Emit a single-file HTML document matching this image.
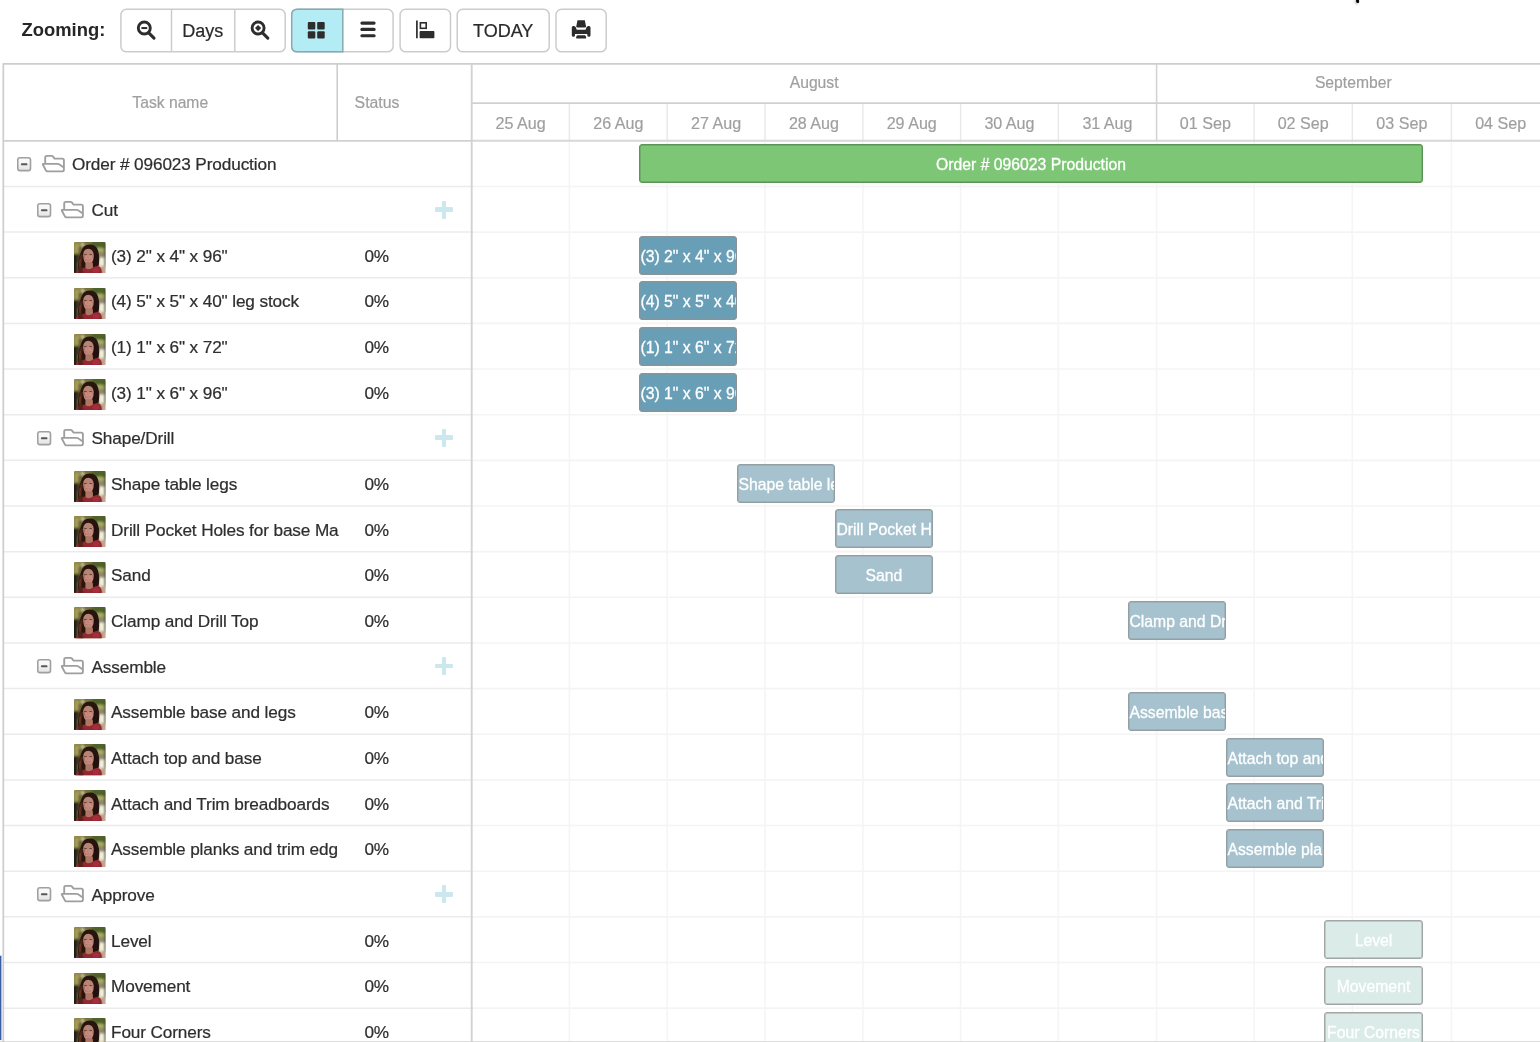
<!DOCTYPE html>
<html lang="en">
<head>
<meta charset="utf-8">
<title>Gantt</title>
<style>
html,body{margin:0;padding:0;}
html{background:#fff;}
body{width:1540px;height:1042px;overflow:hidden;position:relative;background:transparent;will-change:transform;font-family:"Liberation Sans",Arial,Helvetica,sans-serif;color:#2b2b2b;}
.defs{position:absolute;width:0;height:0;overflow:hidden;}

/* toolbar */
.tb{position:absolute;left:0;top:0;width:1540px;height:64px;}
.tb .lbl{position:absolute;left:21.5px;top:18.6px;font-size:18.4px;font-weight:bold;line-height:22px;color:#262626;}
.tbsvg{position:absolute;left:0;top:0;}
.tb .t{position:absolute;top:19.9px;text-align:center;font-size:18px;line-height:22px;color:#2a2a2a;-webkit-text-stroke:0.2px #2a2a2a;}

/* gantt */
.lines{position:absolute;left:0;top:0;}
.hd{position:absolute;text-align:center;color:#9f9f9f;white-space:nowrap;-webkit-text-stroke:0.2px #9f9f9f;}
.grow{position:absolute;left:0;width:471px;height:45.65px;}
.grow .nm{position:absolute;top:13.7px;font-size:17.2px;letter-spacing:-0.12px;line-height:21px;white-space:nowrap;color:#2e2e2e;-webkit-text-stroke:0.22px #2e2e2e;}
.grow .st{position:absolute;left:364.4px;top:13.7px;font-size:17.2px;letter-spacing:-0.12px;line-height:21px;color:#2e2e2e;-webkit-text-stroke:0.22px #2e2e2e;}
.tog{position:absolute;top:16.15px;}
.fold{position:absolute;top:12.2px;}
.plus{position:absolute;left:435.1px;top:14.15px;width:18px;height:18px;}
.plus:before{content:"";position:absolute;left:6.6px;top:0;width:4.8px;height:18px;background:#cbe8ee;border-radius:1px;}
.plus:after{content:"";position:absolute;left:0;top:6.6px;width:18px;height:4.8px;background:#cbe8ee;border-radius:1px;}
.av{position:absolute;left:74.2px;top:10.2px;}

.bar{position:absolute;height:39px;box-sizing:border-box;border-radius:3px;color:#fff;font-size:15.75px;line-height:39.7px;white-space:nowrap;overflow:hidden;-webkit-text-stroke:0.3px #fff;}
.bar.ac{text-align:center;}
.bar.al{text-align:left;padding-left:0.4px;}
.bar.g{background:#7dc675;border:1px solid #5c9457;box-shadow:inset 0 0 0 0.45px #5c9457;}
.bar.b1{background:#699fb6;border:1px solid #8b9397;box-shadow:inset 0 0 0 0.4px #8b9397;}
.bar.b2{background:#a5c2ce;border:1px solid #949fa4;box-shadow:inset 0 0 0 0.45px #949fa4;}
.bar.b3{background:#dbece8;border:1px solid #a2a6a5;box-shadow:inset 0 0 0 0.5px #a2a6a5;}

.bluebar{position:absolute;left:0;top:955.5px;width:1.5px;height:84.5px;background:#3561a8;}
.cursor{position:absolute;left:1356.2px;top:-2.2px;width:3px;height:4.6px;background:#050505;border-radius:1.5px;transform:rotate(-8deg);box-shadow:-1px 1.2px 2.5px rgba(0,0,0,0.28);}
</style>
</head>
<body>
<svg class="defs" width="0" height="0" aria-hidden="true">
<defs>
<filter id="bl" x="-10%" y="-10%" width="120%" height="120%"><feGaussianBlur stdDeviation="0.9"/></filter>
<filter id="bl2" x="-10%" y="-10%" width="120%" height="120%"><feGaussianBlur stdDeviation="0.35"/></filter>
<clipPath id="avc"><rect x="0" y="0" width="31" height="31" rx="1"/></clipPath>
<linearGradient id="tg" x1="0" y1="0" x2="0" y2="1"><stop offset="0.3" stop-color="#f8f8f8"/><stop offset="1" stop-color="#e2e2e2"/></linearGradient>
<symbol id="tog" viewBox="0 0 15 15">
<rect x="0.75" y="0.8" width="12.75" height="12.8" rx="2.1" fill="url(#tg)" stroke="#a0a0a0" stroke-width="1.6"/>
<rect x="3.95" y="6.35" width="6.5" height="1.95" rx="0.9" fill="#585858"/>
</symbol>
<symbol id="folder" viewBox="0 0 26 22">
<path d="M5.2 10.8 V4.4 Q5.2 2.8 6.8 2.8 H11.7 Q12.4 2.8 12.8 3.3 L14.6 5.6 H22.3 Q23.9 5.6 23.9 7.2 V16.8 Q23.9 18.4 22.3 18.4 H7.5 Q6.4 18.4 5.9 17.4 L2.8 11.5 Q2.5 10.8 3.3 10.8 H17.6 Q18.5 10.8 19.1 11.2 L23.4 14.2" fill="none" stroke="#9e9e9e" stroke-width="1.85" stroke-linejoin="round" stroke-linecap="round"/>
</symbol>
<symbol id="avatar" viewBox="0 0 31 31">
<g clip-path="url(#avc)">
<g filter="url(#bl)">
<rect x="-3" y="-3" width="37" height="37" fill="#857c40"/>
<rect x="-3" y="-3" width="11" height="16" fill="#8f8748"/>
<rect x="1.5" y="2" width="3" height="9" fill="#a9a262"/>
<rect x="4.5" y="5" width="3" height="7" fill="#5e5a2c"/>
<rect x="16" y="-3" width="18" height="9" fill="#50622a"/>
<rect x="10" y="-3" width="8" height="5" fill="#6e7238"/>
<ellipse cx="25" cy="8" rx="4.5" ry="2.6" fill="#a6ad68"/>
<rect x="7.6" y="1.4" width="1.8" height="2.6" fill="#f2f0d8"/>
<rect x="-3" y="12" width="6.5" height="22" fill="#1c1d12"/>
<rect x="3" y="12" width="4" height="8" fill="#4a3a20"/>
<rect x="23.5" y="10" width="10" height="7" fill="#8e8870"/>
<rect x="24.3" y="15.5" width="5.6" height="8.5" fill="#f1f0de"/>
<rect x="24" y="23" width="3" height="3" fill="#d9d6bf"/>
<rect x="27.2" y="24.5" width="6" height="10" fill="#c6a695"/>
<rect x="30" y="2" width="4" height="21" fill="#4e4c2c"/>
</g>
<g>
<path d="M15.2 2.6 Q21.5 2.4 23.6 8.5 Q25.2 14 24.6 19.5 Q24.4 22.6 23.6 24 L17.5 25.5 L10.5 26 L9.6 31 L4 31 Q3.2 24 4.6 18.5 Q5.4 14 6.6 10.6 Q8.6 2.8 15.2 2.6 Z" fill="#28150f"/>
<path d="M6.6 12.5 Q4.2 19 4.4 28 L7.6 27.6 Q7.2 19 9 13 Z" fill="#4a2418"/>
<path d="M5.4 17 Q4.6 22 5 27 L6.6 26.8 Q6.4 21 7 17 Z" fill="#66341f"/>
<path d="M20 9 Q24.6 14 24 23.6 L19 25 Z" fill="#21100e"/>
<path d="M9 13.2 Q8.9 7.2 13.9 6.7 Q19 6.9 19.4 13 Q19.7 17.8 17.4 20.6 Q15.4 22.5 13.7 22.4 Q11.5 22 10 18.8 Q9 16.4 9 13.2 Z" fill="#b98272"/>
<ellipse cx="14.1" cy="16.8" rx="4.2" ry="4" fill="#c88c80"/>
<path d="M9.5 12 Q9.6 16.5 11 19.5 L11.6 19 Q10.6 15.5 10.6 11.5 Z" fill="#a87464"/>
<ellipse cx="14" cy="9.4" rx="3.2" ry="1.7" fill="#b78575"/>
<path d="M11.4 20 L18.4 20.5 L18.8 27.5 L11 27.5 Z" fill="#ad7763"/>
<path d="M1.6 31 Q2.2 27.4 8 25.9 L10.8 25.3 Q14.6 29.2 19 24.9 L23.2 23.6 Q26.6 24.6 27.2 29 L27.4 34 L1.6 34 Z" fill="#952733"/>
<ellipse cx="21.6" cy="28" rx="3.4" ry="2.4" fill="#a32e3c"/>
<ellipse cx="7" cy="29.8" rx="3.4" ry="1.4" fill="#86222d"/>
<path d="M4.2 24 Q4 27.5 4.6 31 L8.6 31 Q8.2 27.5 9 25.6 Z" fill="#4a2418" opacity="0.85"/>
</g>
<g>
<rect x="10" y="11.9" width="2.5" height="1" rx="0.4" fill="#46291f" opacity="0.75"/>
<rect x="15.1" y="11.9" width="2.5" height="1" rx="0.4" fill="#46291f" opacity="0.75"/>
<path d="M11.7 17.8 Q14 19.9 16.5 17.8 Q14 18.7 11.7 17.8 Z" fill="#ecd6cf" stroke="#a4585a" stroke-width="0.5" opacity="0.8"/>
<path d="M13.6 13 L13.3 15.9 L14.6 16" fill="none" stroke="#a87464" stroke-width="0.5" opacity="0.7"/>
</g>
</g>
</symbol>
</defs>
</svg>
<div class="tb">
<div class="lbl">Zooming:</div>
<svg class="tbsvg" width="640" height="64" viewBox="0 0 640 64" fill="none">
<g stroke="#cbcbcb" stroke-width="1.45">
<rect x="120.9" y="9.3" width="164.3" height="42.5" rx="5.6" fill="#fff"/>
<path d="M171.5 9.3 V51.8 M234.8 9.3 V51.8"/>
<rect x="291.7" y="9.3" width="101.4" height="42.5" rx="5.6" fill="#fff"/>
<rect x="400.1" y="9.3" width="50.4" height="42.5" rx="5.6" fill="#fff"/>
<rect x="457.2" y="9.3" width="92" height="42.5" rx="5.6" fill="#fff"/>
<rect x="556" y="9.3" width="50.2" height="42.5" rx="5.6" fill="#fff"/>
</g>
<path d="M342.8 9.3 H297.3 Q291.7 9.3 291.7 14.9 V46.2 Q291.7 51.8 297.3 51.8 H342.8 Z" fill="#b4ecf5" stroke="#86aab1" stroke-width="1.5"/>
<g stroke="#2d2d2d">
<circle cx="144.3" cy="28.05" r="6.0" stroke-width="2.9"/>
<path d="M149 33.05 L154 38.05" stroke-width="3.1" stroke-linecap="round"/>
<path d="M141.4 28.05 H147.2" stroke-width="2"/>
<circle cx="258.1" cy="28.05" r="6.0" stroke-width="2.9"/>
<path d="M262.8 33.05 L267.8 38.05" stroke-width="3.1" stroke-linecap="round"/>
</g>
<path d="M258.1 24.95 L261.2 28.05 L258.1 31.15 L255 28.05 Z" fill="#2d2d2d"/>
<g fill="#2d2d2d">
<rect x="307.8" y="22" width="7.5" height="7.4" rx="1"/><rect x="317.2" y="22" width="7.5" height="7.4" rx="1"/>
<rect x="307.8" y="31.2" width="7.5" height="7.4" rx="1"/><rect x="317.2" y="31.2" width="7.5" height="7.4" rx="1"/>
</g>
<g stroke="#2d2d2d" stroke-width="3.1" stroke-linecap="round"><path d="M361.9 23.1 H374.1"/><path d="M361.9 29.4 H374.1"/><path d="M361.9 35.7 H374.1"/></g>
<path d="M416.9 20.4 V38.3" stroke="#2d2d2d" stroke-width="1.7"/>
<rect x="420.4" y="22.8" width="5.8" height="5.5" stroke="#2d2d2d" stroke-width="1.6"/>
<rect x="419.6" y="31.1" width="14.8" height="7.2" rx="0.8" fill="#2d2d2d"/>
<g fill="#2b2b2b" transform="translate(0.3 0)"><path d="M577.2 20.2 H584.5 L585.7 26.2 Q585.8 27.4 584.4 27.4 H577.3 Q575.9 27.4 576 26.2 Z"/><path d="M571.5 27.6 Q571.5 26.1 573 26.1 H573.7 Q575 26.1 575.6 27.6 L576.4 29.7 H585.3 L586.1 27.6 Q586.7 26.1 588 26.1 H588.7 Q590.2 26.1 590.2 27.6 V35.3 Q590.2 36.8 588.6 36.8 Q587 36.8 587 35.3 V33.9 H574.7 V35.3 Q574.7 36.8 573.1 36.8 Q571.5 36.8 571.5 35.3 Z"/><path d="M577.2 35.3 H584.5 Q585.2 35.3 585.4 36 L585.9 37.6 Q586.1 38.5 585.2 38.5 H576.5 Q575.6 38.5 575.8 37.6 L576.3 36 Q576.5 35.3 577.2 35.3 Z"/></g>
</svg>
<div class="t" style="left:171.1px;width:63.3px">Days</div>
<div class="t" style="left:457.4px;width:91.6px">TODAY</div>
</div>
<svg class="lines" width="1540" height="1042" viewBox="0 0 1540 1042" fill="none">
<path d="M3.30 186.45 L471.70 186.45" stroke="#ebebeb" stroke-width="1.50"/>
<path d="M471.70 186.45 L1541.00 186.45" stroke="#f5f4f5" stroke-width="1.60"/>
<path d="M3.30 232.10 L471.70 232.10" stroke="#ebebeb" stroke-width="1.50"/>
<path d="M471.70 232.10 L1541.00 232.10" stroke="#f5f4f5" stroke-width="1.60"/>
<path d="M3.30 277.75 L471.70 277.75" stroke="#ebebeb" stroke-width="1.50"/>
<path d="M471.70 277.75 L1541.00 277.75" stroke="#f5f4f5" stroke-width="1.60"/>
<path d="M3.30 323.40 L471.70 323.40" stroke="#ebebeb" stroke-width="1.50"/>
<path d="M471.70 323.40 L1541.00 323.40" stroke="#f5f4f5" stroke-width="1.60"/>
<path d="M3.30 369.05 L471.70 369.05" stroke="#ebebeb" stroke-width="1.50"/>
<path d="M471.70 369.05 L1541.00 369.05" stroke="#f5f4f5" stroke-width="1.60"/>
<path d="M3.30 414.70 L471.70 414.70" stroke="#ebebeb" stroke-width="1.50"/>
<path d="M471.70 414.70 L1541.00 414.70" stroke="#f5f4f5" stroke-width="1.60"/>
<path d="M3.30 460.35 L471.70 460.35" stroke="#ebebeb" stroke-width="1.50"/>
<path d="M471.70 460.35 L1541.00 460.35" stroke="#f5f4f5" stroke-width="1.60"/>
<path d="M3.30 506.00 L471.70 506.00" stroke="#ebebeb" stroke-width="1.50"/>
<path d="M471.70 506.00 L1541.00 506.00" stroke="#f5f4f5" stroke-width="1.60"/>
<path d="M3.30 551.65 L471.70 551.65" stroke="#ebebeb" stroke-width="1.50"/>
<path d="M471.70 551.65 L1541.00 551.65" stroke="#f5f4f5" stroke-width="1.60"/>
<path d="M3.30 597.30 L471.70 597.30" stroke="#ebebeb" stroke-width="1.50"/>
<path d="M471.70 597.30 L1541.00 597.30" stroke="#f5f4f5" stroke-width="1.60"/>
<path d="M3.30 642.95 L471.70 642.95" stroke="#ebebeb" stroke-width="1.50"/>
<path d="M471.70 642.95 L1541.00 642.95" stroke="#f5f4f5" stroke-width="1.60"/>
<path d="M3.30 688.60 L471.70 688.60" stroke="#ebebeb" stroke-width="1.50"/>
<path d="M471.70 688.60 L1541.00 688.60" stroke="#f5f4f5" stroke-width="1.60"/>
<path d="M3.30 734.25 L471.70 734.25" stroke="#ebebeb" stroke-width="1.50"/>
<path d="M471.70 734.25 L1541.00 734.25" stroke="#f5f4f5" stroke-width="1.60"/>
<path d="M3.30 779.90 L471.70 779.90" stroke="#ebebeb" stroke-width="1.50"/>
<path d="M471.70 779.90 L1541.00 779.90" stroke="#f5f4f5" stroke-width="1.60"/>
<path d="M3.30 825.55 L471.70 825.55" stroke="#ebebeb" stroke-width="1.50"/>
<path d="M471.70 825.55 L1541.00 825.55" stroke="#f5f4f5" stroke-width="1.60"/>
<path d="M3.30 871.20 L471.70 871.20" stroke="#ebebeb" stroke-width="1.50"/>
<path d="M471.70 871.20 L1541.00 871.20" stroke="#f5f4f5" stroke-width="1.60"/>
<path d="M3.30 916.85 L471.70 916.85" stroke="#ebebeb" stroke-width="1.50"/>
<path d="M471.70 916.85 L1541.00 916.85" stroke="#f5f4f5" stroke-width="1.60"/>
<path d="M3.30 962.50 L471.70 962.50" stroke="#ebebeb" stroke-width="1.50"/>
<path d="M471.70 962.50 L1541.00 962.50" stroke="#f5f4f5" stroke-width="1.60"/>
<path d="M3.30 1008.15 L471.70 1008.15" stroke="#ebebeb" stroke-width="1.50"/>
<path d="M471.70 1008.15 L1541.00 1008.15" stroke="#f5f4f5" stroke-width="1.60"/>
<path d="M3.30 1053.80 L471.70 1053.80" stroke="#ebebeb" stroke-width="1.50"/>
<path d="M471.70 1053.80 L1541.00 1053.80" stroke="#f5f4f5" stroke-width="1.60"/>
<path d="M569.40 140.80 L569.40 1043.00" stroke="#f5f5f5" stroke-width="1.60"/>
<path d="M569.40 103.10 L569.40 140.80" stroke="#e8e8e8" stroke-width="1.40"/>
<path d="M667.20 140.80 L667.20 1043.00" stroke="#f5f5f5" stroke-width="1.60"/>
<path d="M667.20 103.10 L667.20 140.80" stroke="#e8e8e8" stroke-width="1.40"/>
<path d="M765.00 140.80 L765.00 1043.00" stroke="#f5f5f5" stroke-width="1.60"/>
<path d="M765.00 103.10 L765.00 140.80" stroke="#e8e8e8" stroke-width="1.40"/>
<path d="M862.90 140.80 L862.90 1043.00" stroke="#f5f5f5" stroke-width="1.60"/>
<path d="M862.90 103.10 L862.90 140.80" stroke="#e8e8e8" stroke-width="1.40"/>
<path d="M960.60 140.80 L960.60 1043.00" stroke="#f5f5f5" stroke-width="1.60"/>
<path d="M960.60 103.10 L960.60 140.80" stroke="#e8e8e8" stroke-width="1.40"/>
<path d="M1058.30 140.80 L1058.30 1043.00" stroke="#f5f5f5" stroke-width="1.60"/>
<path d="M1058.30 103.10 L1058.30 140.80" stroke="#e8e8e8" stroke-width="1.40"/>
<path d="M1156.60 140.80 L1156.60 1043.00" stroke="#f5f5f5" stroke-width="1.60"/>
<path d="M1254.10 140.80 L1254.10 1043.00" stroke="#f5f5f5" stroke-width="1.60"/>
<path d="M1254.10 103.10 L1254.10 140.80" stroke="#e8e8e8" stroke-width="1.40"/>
<path d="M1352.30 140.80 L1352.30 1043.00" stroke="#f5f5f5" stroke-width="1.60"/>
<path d="M1352.30 103.10 L1352.30 140.80" stroke="#e8e8e8" stroke-width="1.40"/>
<path d="M1451.40 140.80 L1451.40 1043.00" stroke="#f5f5f5" stroke-width="1.60"/>
<path d="M1451.40 103.10 L1451.40 140.80" stroke="#e8e8e8" stroke-width="1.40"/>
<path d="M1550.00 140.80 L1550.00 1043.00" stroke="#f5f5f5" stroke-width="1.60"/>
<path d="M1550.00 103.10 L1550.00 140.80" stroke="#e8e8e8" stroke-width="1.40"/>
<path d="M0.00 1041.80 L1541.00 1041.80" stroke="#dcdcdc" stroke-width="1.40"/>
<path d="M3.30 63.95 L1541.00 63.95" stroke="#cdcdcd" stroke-width="1.70"/>
<path d="M3.30 63.15 L3.30 1043.00" stroke="#cdcdcd" stroke-width="1.70"/>
<path d="M3.30 140.80 L471.70 140.80" stroke="#d0d0d0" stroke-width="1.70"/>
<path d="M471.70 140.80 L1541.00 140.80" stroke="#d8d7d8" stroke-width="1.90"/>
<path d="M471.70 103.10 L1541.00 103.10" stroke="#d0d0d0" stroke-width="1.60"/>
<path d="M337.20 63.95 L337.20 140.80" stroke="#cdcdcd" stroke-width="1.60"/>
<path d="M1156.60 63.95 L1156.60 140.80" stroke="#d2d2d2" stroke-width="1.50"/>
<path d="M471.70 63.95 L471.70 1043.00" stroke="#d2d2d2" stroke-width="1.90"/>
<rect x="0" y="955.7" width="1.4" height="84.4" fill="#3560a8"/>
</svg>
<div class="hd" style="left:3.3px;top:64.0px;width:333.9px;height:76.9px;line-height:77.5px;font-size:15.7px">Task name</div>
<div class="hd" style="left:354.6px;top:64.0px;width:100.0px;height:76.9px;line-height:77.5px;font-size:15.8px;text-align:left">Status</div>
<div class="hd" style="left:471.7px;top:64.0px;width:684.9px;height:39.1px;line-height:37.6px;font-size:15.7px">August</div>
<div class="hd" style="left:1156.6px;top:64.0px;width:393.4px;height:39.1px;line-height:37.6px;font-size:15.7px">September</div>
<div class="hd" style="left:471.7px;top:103.1px;width:97.7px;height:37.7px;line-height:40.1px;font-size:16.1px">25 Aug</div>
<div class="hd" style="left:569.4px;top:103.1px;width:97.8px;height:37.7px;line-height:40.1px;font-size:16.1px">26 Aug</div>
<div class="hd" style="left:667.2px;top:103.1px;width:97.8px;height:37.7px;line-height:40.1px;font-size:16.1px">27 Aug</div>
<div class="hd" style="left:765.0px;top:103.1px;width:97.9px;height:37.7px;line-height:40.1px;font-size:16.1px">28 Aug</div>
<div class="hd" style="left:862.9px;top:103.1px;width:97.7px;height:37.7px;line-height:40.1px;font-size:16.1px">29 Aug</div>
<div class="hd" style="left:960.6px;top:103.1px;width:97.7px;height:37.7px;line-height:40.1px;font-size:16.1px">30 Aug</div>
<div class="hd" style="left:1058.3px;top:103.1px;width:98.3px;height:37.7px;line-height:40.1px;font-size:16.1px">31 Aug</div>
<div class="hd" style="left:1156.6px;top:103.1px;width:97.5px;height:37.7px;line-height:40.1px;font-size:16.1px">01 Sep</div>
<div class="hd" style="left:1254.1px;top:103.1px;width:98.2px;height:37.7px;line-height:40.1px;font-size:16.1px">02 Sep</div>
<div class="hd" style="left:1352.3px;top:103.1px;width:99.1px;height:37.7px;line-height:40.1px;font-size:16.1px">03 Sep</div>
<div class="hd" style="left:1451.4px;top:103.1px;width:98.6px;height:37.7px;line-height:40.1px;font-size:16.1px">04 Sep</div>
<div class="grow" style="top:140.80px"><svg class="tog" style="left:16.95px" width="15" height="15" viewBox="0 0 15 15"><use href="#tog"/></svg><svg class="fold" style="left:40.2px" width="26" height="22" viewBox="0 0 26 22"><use href="#folder"/></svg><span class="nm" style="left:72.0px">Order # 096023 Production</span></div>
<div class="grow" style="top:186.45px"><svg class="tog" style="left:36.95px" width="15" height="15" viewBox="0 0 15 15"><use href="#tog"/></svg><svg class="fold" style="left:59.3px" width="26" height="22" viewBox="0 0 26 22"><use href="#folder"/></svg><span class="nm" style="left:91.5px">Cut</span><span class="plus"></span></div>
<div class="grow" style="top:232.10px"><svg class="av" width="31.6" height="31.2" viewBox="0 0 31 31" preserveAspectRatio="none"><use href="#avatar"/></svg><span class="nm" style="left:111px">(3) 2&quot; x 4&quot; x 96&quot;</span><span class="st">0%</span></div>
<div class="grow" style="top:277.75px"><svg class="av" width="31.6" height="31.2" viewBox="0 0 31 31" preserveAspectRatio="none"><use href="#avatar"/></svg><span class="nm" style="left:111px">(4) 5&quot; x 5&quot; x 40&quot; leg stock</span><span class="st">0%</span></div>
<div class="grow" style="top:323.40px"><svg class="av" width="31.6" height="31.2" viewBox="0 0 31 31" preserveAspectRatio="none"><use href="#avatar"/></svg><span class="nm" style="left:111px">(1) 1&quot; x 6&quot; x 72&quot;</span><span class="st">0%</span></div>
<div class="grow" style="top:369.05px"><svg class="av" width="31.6" height="31.2" viewBox="0 0 31 31" preserveAspectRatio="none"><use href="#avatar"/></svg><span class="nm" style="left:111px">(3) 1&quot; x 6&quot; x 96&quot;</span><span class="st">0%</span></div>
<div class="grow" style="top:414.70px"><svg class="tog" style="left:36.95px" width="15" height="15" viewBox="0 0 15 15"><use href="#tog"/></svg><svg class="fold" style="left:59.3px" width="26" height="22" viewBox="0 0 26 22"><use href="#folder"/></svg><span class="nm" style="left:91.5px">Shape/Drill</span><span class="plus"></span></div>
<div class="grow" style="top:460.35px"><svg class="av" width="31.6" height="31.2" viewBox="0 0 31 31" preserveAspectRatio="none"><use href="#avatar"/></svg><span class="nm" style="left:111px">Shape table legs</span><span class="st">0%</span></div>
<div class="grow" style="top:506.00px"><svg class="av" width="31.6" height="31.2" viewBox="0 0 31 31" preserveAspectRatio="none"><use href="#avatar"/></svg><span class="nm" style="left:111px">Drill Pocket Holes for base Ma</span><span class="st">0%</span></div>
<div class="grow" style="top:551.65px"><svg class="av" width="31.6" height="31.2" viewBox="0 0 31 31" preserveAspectRatio="none"><use href="#avatar"/></svg><span class="nm" style="left:111px">Sand</span><span class="st">0%</span></div>
<div class="grow" style="top:597.30px"><svg class="av" width="31.6" height="31.2" viewBox="0 0 31 31" preserveAspectRatio="none"><use href="#avatar"/></svg><span class="nm" style="left:111px">Clamp and Drill Top</span><span class="st">0%</span></div>
<div class="grow" style="top:642.95px"><svg class="tog" style="left:36.95px" width="15" height="15" viewBox="0 0 15 15"><use href="#tog"/></svg><svg class="fold" style="left:59.3px" width="26" height="22" viewBox="0 0 26 22"><use href="#folder"/></svg><span class="nm" style="left:91.5px">Assemble</span><span class="plus"></span></div>
<div class="grow" style="top:688.60px"><svg class="av" width="31.6" height="31.2" viewBox="0 0 31 31" preserveAspectRatio="none"><use href="#avatar"/></svg><span class="nm" style="left:111px">Assemble base and legs</span><span class="st">0%</span></div>
<div class="grow" style="top:734.25px"><svg class="av" width="31.6" height="31.2" viewBox="0 0 31 31" preserveAspectRatio="none"><use href="#avatar"/></svg><span class="nm" style="left:111px">Attach top and base</span><span class="st">0%</span></div>
<div class="grow" style="top:779.90px"><svg class="av" width="31.6" height="31.2" viewBox="0 0 31 31" preserveAspectRatio="none"><use href="#avatar"/></svg><span class="nm" style="left:111px">Attach and Trim breadboards</span><span class="st">0%</span></div>
<div class="grow" style="top:825.55px"><svg class="av" width="31.6" height="31.2" viewBox="0 0 31 31" preserveAspectRatio="none"><use href="#avatar"/></svg><span class="nm" style="left:111px">Assemble planks and trim edg</span><span class="st">0%</span></div>
<div class="grow" style="top:871.20px"><svg class="tog" style="left:36.95px" width="15" height="15" viewBox="0 0 15 15"><use href="#tog"/></svg><svg class="fold" style="left:59.3px" width="26" height="22" viewBox="0 0 26 22"><use href="#folder"/></svg><span class="nm" style="left:91.5px">Approve</span><span class="plus"></span></div>
<div class="grow" style="top:916.85px"><svg class="av" width="31.6" height="31.2" viewBox="0 0 31 31" preserveAspectRatio="none"><use href="#avatar"/></svg><span class="nm" style="left:111px">Level</span><span class="st">0%</span></div>
<div class="grow" style="top:962.50px"><svg class="av" width="31.6" height="31.2" viewBox="0 0 31 31" preserveAspectRatio="none"><use href="#avatar"/></svg><span class="nm" style="left:111px">Movement</span><span class="st">0%</span></div>
<div class="grow" style="top:1008.15px"><svg class="av" width="31.6" height="31.2" viewBox="0 0 31 31" preserveAspectRatio="none"><use href="#avatar"/></svg><span class="nm" style="left:111px">Four Corners</span><span class="st">0%</span></div>
<div class="bar g ac" style="left:639.0px;top:144.25px;width:784.0px">Order # 096023 Production</div>
<div class="bar b1 al" style="left:639.0px;top:235.55px;width:98.0px">(3) 2&quot; x 4&quot; x 96&quot;</div>
<div class="bar b1 al" style="left:639.0px;top:281.20px;width:98.0px">(4) 5&quot; x 5&quot; x 40&quot; leg stock</div>
<div class="bar b1 al" style="left:639.0px;top:326.85px;width:98.0px">(1) 1&quot; x 6&quot; x 72&quot;</div>
<div class="bar b1 al" style="left:639.0px;top:372.50px;width:98.0px">(3) 1&quot; x 6&quot; x 96&quot;</div>
<div class="bar b2 al" style="left:737.0px;top:463.80px;width:98.0px">Shape table legs</div>
<div class="bar b2 al" style="left:835.0px;top:509.45px;width:98.0px">Drill Pocket Holes for base Ma</div>
<div class="bar b2 ac" style="left:835.0px;top:555.10px;width:98.0px">Sand</div>
<div class="bar b2 al" style="left:1128.0px;top:600.75px;width:98.0px">Clamp and Drill Top</div>
<div class="bar b2 al" style="left:1128.0px;top:692.05px;width:98.0px">Assemble base and legs</div>
<div class="bar b2 al" style="left:1226.0px;top:737.70px;width:98.0px">Attach top and base</div>
<div class="bar b2 al" style="left:1226.0px;top:783.35px;width:98.0px">Attach and Trim breadboards</div>
<div class="bar b2 al" style="left:1226.0px;top:829.00px;width:98.0px">Assemble planks and trim edg</div>
<div class="bar b3 ac" style="left:1324.0px;top:920.30px;width:99.0px">Level</div>
<div class="bar b3 ac" style="left:1324.0px;top:965.95px;width:99.0px">Movement</div>
<div class="bar b3 ac" style="left:1324.0px;top:1011.60px;width:99.0px">Four Corners</div>
<div class="cursor"></div>
</body>
</html>
